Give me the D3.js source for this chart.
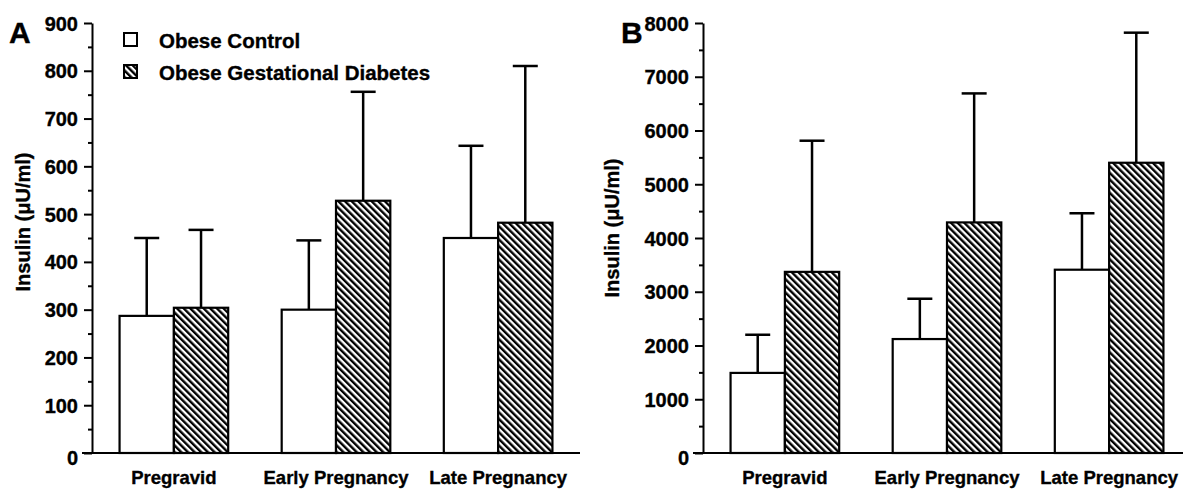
<!DOCTYPE html>
<html>
<head>
<meta charset="utf-8">
<script src="https://cdn.jsdelivr.net/npm/d3@7"></script>
<style>
    body { margin: 0; background: #fff; }
    text { font-family: "Liberation Sans", Arial, sans-serif; font-weight: bold; fill: #000; stroke: #000; stroke-width: 0.35; }
    .axis path, .axis line { stroke: #000; stroke-width: 2; }
</style>
</head>
<body>
<script>
const categories = ["Pregravid", "Early Pregnancy", "Late Pregnancy"]
const groups = ["Obese Control", "Obese Gestational Diabetes"]

// panel A, insulin (uU/ml), mean and SD
const meanA_control = [287, 300, 450]
const sdA_control = [163, 145, 193]
const meanA_gdm = [304, 528, 482]
const sdA_gdm = [163, 228, 328]
const ticksA = [0, 100, 200, 300, 400, 500, 600, 700, 800, 900]

// panel B
const meanB_control = [1490, 2120, 3410]
const sdB_control = [710, 750, 1050]
const meanB_gdm = [3370, 4290, 5400]
const sdB_gdm = [2440, 2400, 2420]
const ticksB = [0, 1000, 2000, 3000, 4000, 5000, 6000, 7000, 8000]

const width = 1183
const height = 494
const baseY = 453
const topY = 23

const svg = d3.select("body")
    .append("svg")
    .attr("width", width)
    .attr("height", height)

// hatch pattern, stripes running top-left to bottom-right
const defs = svg.append("defs")
defs.append("pattern")
    .attr("id", "hatch")
    .attr("patternUnits", "userSpaceOnUse")
    .attr("width", 4.7)
    .attr("height", 4.7)
    .attr("patternTransform", "rotate(-45)")
    .call(p => {
        p.append("rect").attr("width", 4.7).attr("height", 4.7).attr("fill", "#fff")
        p.append("rect").attr("width", 2.4).attr("height", 4.7).attr("fill", "#000")
    })

function drawPanel(opts) {
    let g = svg.append("g")
    let axisX = opts.axisX

    let y = d3.scaleLinear()
        .domain([0, opts.max])
        .range([baseY, topY])

    let x0 = d3.scaleBand()
        .domain(categories)
        .range([axisX, axisX + 488])
        .paddingInner(0.33)
        .paddingOuter(0.17)

    let x1 = d3.scaleBand()
        .domain(groups)
        .range([0, x0.bandwidth()])

    let rows = categories.map((c, i) => ({
        cat: c,
        vals: [
            {grp: groups[0], mean: opts.control[i], sd: opts.controlSd[i]},
            {grp: groups[1], mean: opts.gdm[i], sd: opts.gdmSd[i]}
        ]
    }))

    let cells = g.selectAll(".grp")
        .data(rows)
        .join("g")
        .attr("transform", d => `translate(${x0(d.cat)},0)`)
        .selectAll("g")
        .data(d => d.vals)
        .join("g")

    // error bars (upper only)
    cells.append("line")
        .attr("x1", d => x1(d.grp) + x1.bandwidth() / 2)
        .attr("x2", d => x1(d.grp) + x1.bandwidth() / 2)
        .attr("y1", d => y(d.mean))
        .attr("y2", d => y(d.mean + d.sd))
        .attr("stroke", "#000")
        .attr("stroke-width", 2.5)
    cells.append("line")
        .attr("x1", d => x1(d.grp) + x1.bandwidth() / 2 - 12.5)
        .attr("x2", d => x1(d.grp) + x1.bandwidth() / 2 + 12.5)
        .attr("y1", d => y(d.mean + d.sd))
        .attr("y2", d => y(d.mean + d.sd))
        .attr("stroke", "#000")
        .attr("stroke-width", 2.5)

    cells.append("rect")
        .attr("x", d => x1(d.grp))
        .attr("y", d => y(d.mean))
        .attr("width", x1.bandwidth())
        .attr("height", d => baseY - y(d.mean))
        .attr("fill", d => d.grp == groups[0] ? "#fff" : "url(#hatch)")
        .attr("stroke", "#000")
        .attr("stroke-width", 2.2)

    // minor ticks
    g.append("g")
        .attr("class", "axis")
        .attr("transform", `translate(${axisX},0)`)
        .call(d3.axisLeft(y).tickValues(opts.ticks.slice(1).map(t => t - opts.ticks[1] / 2)).tickSize(4).tickSizeOuter(0).tickFormat(""))
        .select(".domain").remove()

    g.append("g")
        .attr("class", "axis")
        .attr("transform", `translate(${axisX},0)`)
        .call(d3.axisLeft(y).tickValues(opts.ticks).tickSize(8).tickPadding(6).tickSizeOuter(0).tickFormat(d3.format("d")))
        .call(a => a.selectAll("text").style("font-size", "20px").attr("dy", d => d == 0 ? "0.55em" : "0.35em"))

    // baseline
    g.append("line")
        .attr("x1", axisX - 10)
        .attr("x2", axisX + 488)
        .attr("y1", baseY)
        .attr("y2", baseY)
        .attr("stroke", "#000")
        .attr("stroke-width", 2)

    g.append("g")
        .attr("transform", `translate(0,${baseY})`)
        .call(d3.axisBottom(x0).tickSize(0).tickPadding(18))
        .call(a => a.select(".domain").remove())
        .call(a => a.selectAll("text").style("font-size", "18.5px"))

    g.append("text")
        .attr("transform", `translate(${opts.labelX},${opts.labelY}) rotate(-90)`)
        .attr("text-anchor", "middle")
        .style("font-size", "20px")
        .text("Insulin (μU/ml)")

    g.append("text")
        .attr("x", opts.letterX)
        .attr("y", 43)
        .style("font-size", "30px")
        .text(opts.letter)
}

drawPanel({
    letter: "A", letterX: 9, axisX: 92, max: 900, ticks: ticksA,
    control: meanA_control, controlSd: sdA_control, gdm: meanA_gdm, gdmSd: sdA_gdm,
    labelX: 30, labelY: 222
})
drawPanel({
    letter: "B", letterX: 621, axisX: 703, max: 8000, ticks: ticksB,
    control: meanB_control, controlSd: sdB_control, gdm: meanB_gdm, gdmSd: sdB_gdm,
    labelX: 619, labelY: 228
})

// legend
const legend = svg.append("g")
    .selectAll("g")
    .data(groups)
    .join("g")
    .attr("transform", (d, i) => `translate(124,${33 + i * 32})`)
legend.append("rect")
    .attr("width", 13)
    .attr("height", 13)
    .attr("fill", (d, i) => i == 0 ? "#fff" : "url(#hatch)")
    .attr("stroke", "#000")
    .attr("stroke-width", 2)
legend.append("text")
    .attr("x", 35)
    .attr("y", 15)
    .style("font-size", "20.5px")
    .text(d => d)
</script>
</body>
</html>
